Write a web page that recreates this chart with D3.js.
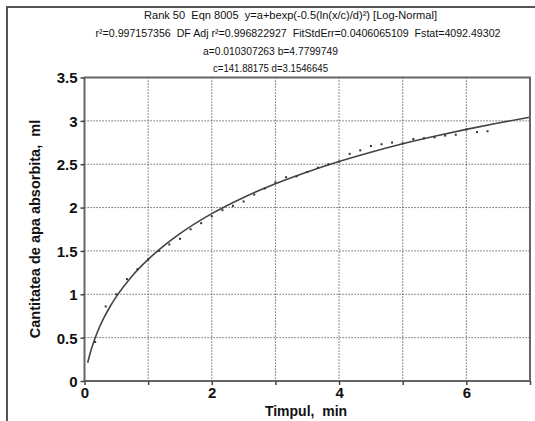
<!DOCTYPE html>
<html>
<head>
<meta charset="utf-8">
<script src="https://cdn.jsdelivr.net/npm/d3@7.9.0/dist/d3.min.js"></script>
<style>
  body { margin: 0; background: #fff; }
  svg { display: block; font-family: 'Liberation Sans', Arial, sans-serif; }
  .grid line { stroke: #444; stroke-dasharray: 1.2 1.8; }
  svg .axis .tick text { font-family: 'Liberation Sans', Arial, sans-serif; font-weight: 700; font-size: 15px; fill: #111; }
</style>
</head>
<body>
<div id="chart"></div>
<script>
// observed points (time in min, water absorbed in ml)
const timeMin = [0.167, 0.333, 0.5, 0.667, 0.833, 1.0, 1.167, 1.333, 1.5, 1.667, 1.833, 2.0,
  2.167, 2.333, 2.5, 2.667, 2.833, 3.0, 3.167, 3.333, 3.5, 3.667, 3.833, 4.0,
  4.167, 4.333, 4.5, 4.667, 4.833, 5.0, 5.167, 5.333, 5.5, 5.667, 5.833, 6.0, 6.167, 6.333];
const waterMl = [0.45, 0.86, 1.0, 1.175, 1.29, 1.40, 1.50, 1.575, 1.64, 1.75, 1.82, 1.90,
  1.97, 2.02, 2.07, 2.15, 2.22, 2.29, 2.35, 2.36, 2.41, 2.46, 2.50, 2.53,
  2.62, 2.66, 2.71, 2.73, 2.75, 2.74, 2.79, 2.80, 2.81, 2.83, 2.84, 2.90, 2.87, 2.88];

// fitted curve
const fitX = [0.05, 0.1, 0.15, 0.2, 0.3, 0.4, 0.5, 0.75, 1, 1.25, 1.5, 2, 2.5, 3, 3.5, 4, 4.5, 5, 5.5, 6, 6.5, 7];
const fitY = [0.21, 0.349, 0.462, 0.559, 0.721, 0.856, 0.973, 1.212, 1.402, 1.562, 1.70, 1.93, 2.117,
  2.275, 2.411, 2.531, 2.638, 2.735, 2.822, 2.902, 2.975, 3.043];

const yTicks = [0, 0.5, 1, 1.5, 2, 2.5, 3, 3.5];
const xTicks = [0, 1, 2, 3, 4, 5, 6, 7];
const xLabels = [0, 2, 4, 6];

const header = [
  'Rank 50  Eqn 8005  y=a+bexp(-0.5(ln(x/c)/d)²) [Log-Normal]',
  'r²=0.997157356  DF Adj r²=0.996822927  FitStdErr=0.0406065109  Fstat=4092.49302',
  'a=0.010307263 b=4.7799749',
  'c=141.88175 d=3.1546645'
];

const width = 535, height = 421;
const plot = { left: 84.5, right: 530, top: 77.5, bottom: 381 };

const svg = d3.select('#chart').append('svg')
  .attr('width', width).attr('height', height);

// outer frame (only top & left visible)
svg.append('path')
  .attr('d', `M7,${height} V7 H${width}`)
  .attr('fill', 'none').attr('stroke', '#555').attr('stroke-width', 2);

const xScale = d3.scaleLinear().domain([0, 7]).range([plot.left, plot.right]);
const yScale = d3.scaleLinear().domain([0, 3.5]).range([plot.bottom, plot.top]);

// header text
const hx = [144, 95.5, 203, 213];
const hw = [293, 405, 135, 115];
const hy = [19, 37, 55, 72];
svg.append('g').selectAll('text')
  .data(header)
  .join('text')
  .attr('x', (d, i) => hx[i])
  .attr('y', (d, i) => hy[i])
  .attr('textLength', (d, i) => hw[i])
  .attr('lengthAdjust', 'spacingAndGlyphs')
  .attr('font-size', 10.5)
  .attr('fill', '#111')
  .style('white-space', 'pre')
  .text(d => d);

// gridlines
svg.append('g').attr('class', 'grid')
  .selectAll('line.v')
  .data(xTicks.slice(1, -1))
  .join('line')
  .attr('x1', d => xScale(d)).attr('x2', d => xScale(d))
  .attr('y1', plot.top).attr('y2', plot.bottom);
svg.append('g').attr('class', 'grid')
  .selectAll('line.h')
  .data(yTicks.slice(1, -1))
  .join('line')
  .attr('x1', plot.left).attr('x2', plot.right)
  .attr('y1', d => yScale(d)).attr('y2', d => yScale(d));

// fitted curve
const line = d3.line()
  .x((d, i) => xScale(fitX[i]))
  .y(d => yScale(d))
  .curve(d3.curveMonotoneX);
svg.append('path')
  .datum(fitY)
  .attr('d', line)
  .attr('fill', 'none')
  .attr('stroke', '#444')
  .attr('stroke-width', 1.6);

// data points
svg.append('g').selectAll('rect')
  .data(waterMl)
  .join('rect')
  .attr('x', (d, i) => xScale(timeMin[i]) - 1)
  .attr('y', d => yScale(d) - 1)
  .attr('width', 2).attr('height', 2)
  .attr('fill', '#333');

// plot frame
svg.append('rect')
  .attr('x', plot.left).attr('y', plot.top)
  .attr('width', plot.right - plot.left).attr('height', plot.bottom - plot.top)
  .attr('fill', 'none').attr('stroke', '#666').attr('stroke-width', 2);

// axes
const xAxis = svg.append('g')
  .attr('class', 'axis')
  .attr('transform', `translate(0,${plot.bottom})`)
  .call(d3.axisBottom(xScale).tickValues(xTicks).tickSize(4).tickPadding(2)
    .tickFormat(d => xLabels.includes(d) ? d : ''));

const yAxis = svg.append('g')
  .attr('class', 'axis')
  .attr('transform', `translate(${plot.left},0)`)
  .call(d3.axisLeft(yScale).tickValues(yTicks).tickSize(4).tickPadding(3)
    .tickFormat(d3.format('~g')));

[xAxis, yAxis].forEach(ax => {
  ax.select('.domain').remove();
  ax.selectAll('.tick line').attr('stroke', '#444').attr('stroke-width', 1.5);
});
yAxis.selectAll('.tick text').attr('dy', '0.36em');

// axis titles
svg.append('text')
  .attr('x', 306)
  .attr('y', 416)
  .attr('text-anchor', 'middle')
  .attr('font-weight', 'bold').attr('font-size', 14).attr('fill', '#111')
  .style('white-space', 'pre')
  .text('Timpul,  min');

svg.append('text')
  .attr('transform', 'translate(40,229) rotate(-90)')
  .attr('text-anchor', 'middle')
  .attr('font-weight', 'bold').attr('font-size', 14.5).attr('fill', '#111')
  .style('white-space', 'pre')
  .text('Cantitatea de apa absorbita,  ml');
</script>
</body>
</html>
